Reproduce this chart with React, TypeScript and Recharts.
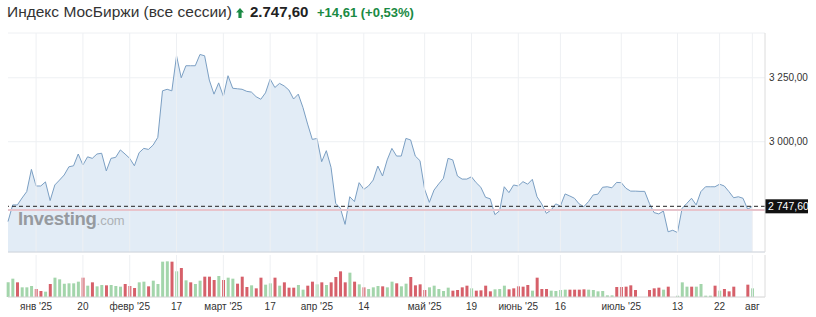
import React from 'react';
import { AreaChart, Area, BarChart, Bar, Cell, XAxis, YAxis, CartesianGrid, ReferenceLine } from 'recharts';

// daily close, MOEX index (all sessions), end of Dec '24 .. 1 Aug '25
const prices: number[] = [
  2688, 2753, 2753, 2780, 2805, 2892, 2827, 2827, 2843, 2770,
  2831, 2850, 2870, 2902, 2906, 2952, 2909, 2941, 2935, 2952,
  2955, 2886, 2935, 2939, 2968, 2952, 2935, 2906, 2957, 2974,
  2970, 2987, 3017, 3199, 3205, 3199, 3336, 3250, 3297, 3297,
  3297, 3341, 3336, 3241, 3186, 3230, 3178, 3258, 3209, 3207,
  3205, 3197, 3194, 3176, 3166, 3191, 3245, 3212, 3228, 3218,
  3202, 3167, 3186, 3134, 3069, 3009, 3013, 2922, 2965, 2900,
  2759, 2740, 2677, 2785, 2766, 2840, 2814, 2827, 2850, 2905,
  2866, 2929, 2974, 2944, 2944, 3013, 3007, 2944, 2926, 2814,
  2763, 2811, 2835, 2857, 2935, 2929, 2866, 2854, 2854, 2863,
  2840, 2822, 2783, 2777, 2715, 2730, 2824, 2801, 2831, 2827,
  2844, 2834, 2853, 2785, 2757, 2720, 2733, 2757, 2749, 2796,
  2788, 2779, 2757, 2746, 2766, 2792, 2795, 2822, 2824, 2820,
  2841, 2840, 2818, 2807, 2807, 2806, 2806, 2759, 2723, 2718,
  2729, 2648, 2654, 2645, 2740, 2759, 2779, 2753, 2805, 2824,
  2824, 2824, 2834, 2827, 2805, 2781, 2785, 2779, 2736, 2747.6,
];

// volume bars (relative units)
const volumes: number[] = [
  44, 55, 44, 29, 29, 33, 24, 18, 16, 39,
  58, 53, 40, 41, 41, 46, 58, 34, 44, 32,
  36, 35, 36, 33, 31, 39, 33, 27, 44, 46,
  32, 49, 39, 106, 107, 106, 77, 87, 50, 44,
  39, 49, 61, 61, 51, 63, 51, 58, 55, 40,
  61, 30, 35, 26, 58, 37, 41, 58, 34, 44,
  28, 28, 36, 22, 34, 46, 38, 44, 36, 44,
  60, 77, 44, 73, 46, 38, 29, 24, 29, 33,
  32, 29, 46, 41, 32, 40, 60, 35, 38, 21,
  29, 34, 24, 18, 28, 19, 21, 29, 34, 26,
  19, 20, 34, 17, 23, 24, 34, 23, 26, 32,
  31, 36, 19, 58, 24, 24, 19, 18, 21, 22,
  22, 22, 22, 23, 22, 21, 17, 18, 5, 5,
  30, 30, 31, 35, 21, 0, 0, 21, 26, 28,
  22, 31, 0, 4, 44, 31, 31, 31, 39, 4,
  4, 34, 19, 24, 17, 31, 0, 0, 37, 26,
];

// g = up day, r = down day
const volumeDir: string =
  'ggrgggrrgr' + 'ggggggrgrg' + 'grgggrrrgg' + 'rggggrgrgr' +
  'ggrrrgrggr' + 'rrgrrggrgr' + 'rrggrrgrgr' + 'rrrgrgrggg' +
  'rggrggrrrr' + 'gggggrrrrg' + 'rrrrgggrrr' + 'rrgrrrgggg' +
  'rrrrgggggg' + 'rrrrrrrrrr' + 'grggggrggg' + 'grgrrrrrrg';

const tickIndex: number[] = [6, 16, 26, 36, 46, 56, 66, 76, 89, 99, 109, 118, 131, 143, 152, 159];
const tickLabels: string[] = [
  "янв '25", '20', "февр '25", '17', "март '25", '17', "апр '25", '14',
  "май '25", '19', "июнь '25", '16', "июль '25", '13', '22', 'авг',
];
const priceTicks: number[] = [3000, 3250];
const lastClose = 2747.6;
const prevClose = 2732.99;

const FONT = '"Liberation Sans", Arial, sans-serif';
const LINE = '#7b9fc3';
const FILL = '#e2ecf6';
const UP = '#a3d5ab';
const DOWN = '#d6606a';
const GRID = '#eef0f3';
const GREEN = '#1a8a43';

const data = prices.map((p, i) => ({ i, price: p, vol: volumes[i], up: volumeDir[i] === 'g' }));

// "3 250,00" with a no-break space so the tick text does not wrap
const fmtPrice = (v: number) => {
  const [int, dec] = v.toFixed(2).split('.');
  const th = int.slice(0, -3);
  return `${th}\u00a0${int.slice(-3)},${dec}`;
};

const fmtTick = (v: number) => {
  const k = tickIndex.indexOf(v);
  return k >= 0 ? tickLabels[k] : '';
};

const LastLabel = (props: any) => {
  const vb = props.viewBox;
  if (!vb) return null;
  const x = vb.x + vb.width;
  return (
    <g>
      <rect x={x} y={vb.y - 7} width={43} height={14} fill="#111" />
      <text x={x + 3} y={vb.y + 4} fill="#fff" fontSize={10.5} fontFamily={FONT}>
        {fmtPrice(lastClose)}
      </text>
    </g>
  );
};

const head: React.CSSProperties = { position: 'absolute', top: 2, lineHeight: '19px', whiteSpace: 'nowrap' };

export default function App() {
  return (
    <div style={{ position: 'absolute', left: 0, top: 0, width: 816, height: 317, background: '#fff', fontFamily: FONT }}>
      <div style={{ ...head, left: 7, fontSize: 15.5, color: '#333' }}>Индекс МосБиржи (все сессии)</div>
      <svg width={8} height={10} style={{ position: 'absolute', left: 236, top: 8 }}>
        <path d="M4 0 L8 4.6 L5.6 4.6 L5.6 10 L2.4 10 L2.4 4.6 L0 4.6 Z" fill={GREEN} />
      </svg>
      <div style={{ ...head, left: 250, fontSize: 15, fontWeight: 700, color: '#222' }}>2.747,60</div>
      <div style={{ ...head, left: 317, top: 3, fontSize: 13, fontWeight: 700, color: GREEN }}>+14,61 (+0,53%)</div>

      <div style={{ position: 'absolute', left: 0, top: 0 }}>
        <AreaChart width={816} height={253} data={data} margin={{ top: 33, right: 0, bottom: 0, left: 8 }}>
          <CartesianGrid vertical={false} stroke={GRID} />
          {tickIndex.map((t) => (
            <ReferenceLine key={`v${t}`} x={t} stroke={GRID} />
          ))}
          <XAxis type="number" dataKey="i" domain={[0, 161.7]} ticks={tickIndex} tick={false} tickLine={false} height={1} axisLine={{ stroke: '#cfd5dc' }} />
          <YAxis
            orientation="right"
            domain={[2569, 3425]}
            ticks={priceTicks}
            tickFormatter={fmtPrice}
            width={51}
            tickSize={2}
            tickLine={false}
            axisLine={{ stroke: '#dcdcdc' }}
            tick={{ fontSize: 10, fill: '#333', fontFamily: FONT }}
          />
          <Area type="linear" dataKey="price" stroke={LINE} strokeWidth={1} fill={FILL} fillOpacity={1} isAnimationActive={false} dot={false} activeDot={false} />
          <ReferenceLine y={prevClose} stroke="#e8c4cc" strokeWidth={2} />
          <ReferenceLine y={lastClose} stroke="#222" strokeDasharray="4 3" label={<LastLabel />} />
        </AreaChart>
      </div>

      <div style={{ position: 'absolute', left: 18, top: 208, pointerEvents: 'none', whiteSpace: 'nowrap' }}>
        <span style={{ fontSize: 18.5, fontWeight: 700, color: '#969a9f', letterSpacing: -0.3 }}>Investing</span>
        <span style={{ fontSize: 13, color: '#adb1b5' }}>.com</span>
      </div>

      <div style={{ position: 'absolute', left: 0, top: 252 }}>
        <BarChart width={816} height={63} data={data} margin={{ top: 3, right: 0, bottom: 0, left: 8 }} barCategoryGap={0}>
          {tickIndex.map((t) => (
            <ReferenceLine key={`vv${t}`} x={t} stroke={GRID} />
          ))}
          <XAxis
            type="number"
            dataKey="i"
            domain={[0, 161.7]}
            ticks={tickIndex}
            interval={0}
            tickFormatter={fmtTick}
            tickLine={false}
            tickSize={4}
            height={18}
            axisLine={{ stroke: '#d2d2d2' }}
            tick={{ fontSize: 10, fill: '#333', fontFamily: FONT }}
          />
          <YAxis orientation="right" domain={[0, 126]} width={51} tick={false} tickLine={false} axisLine={{ stroke: '#dcdcdc' }} />
          <Bar dataKey="vol" barSize={3} isAnimationActive={false}>
            {data.map((d) => (
              <Cell key={`c${d.i}`} fill={d.up ? UP : DOWN} />
            ))}
          </Bar>
        </BarChart>
      </div>
    </div>
  );
}
